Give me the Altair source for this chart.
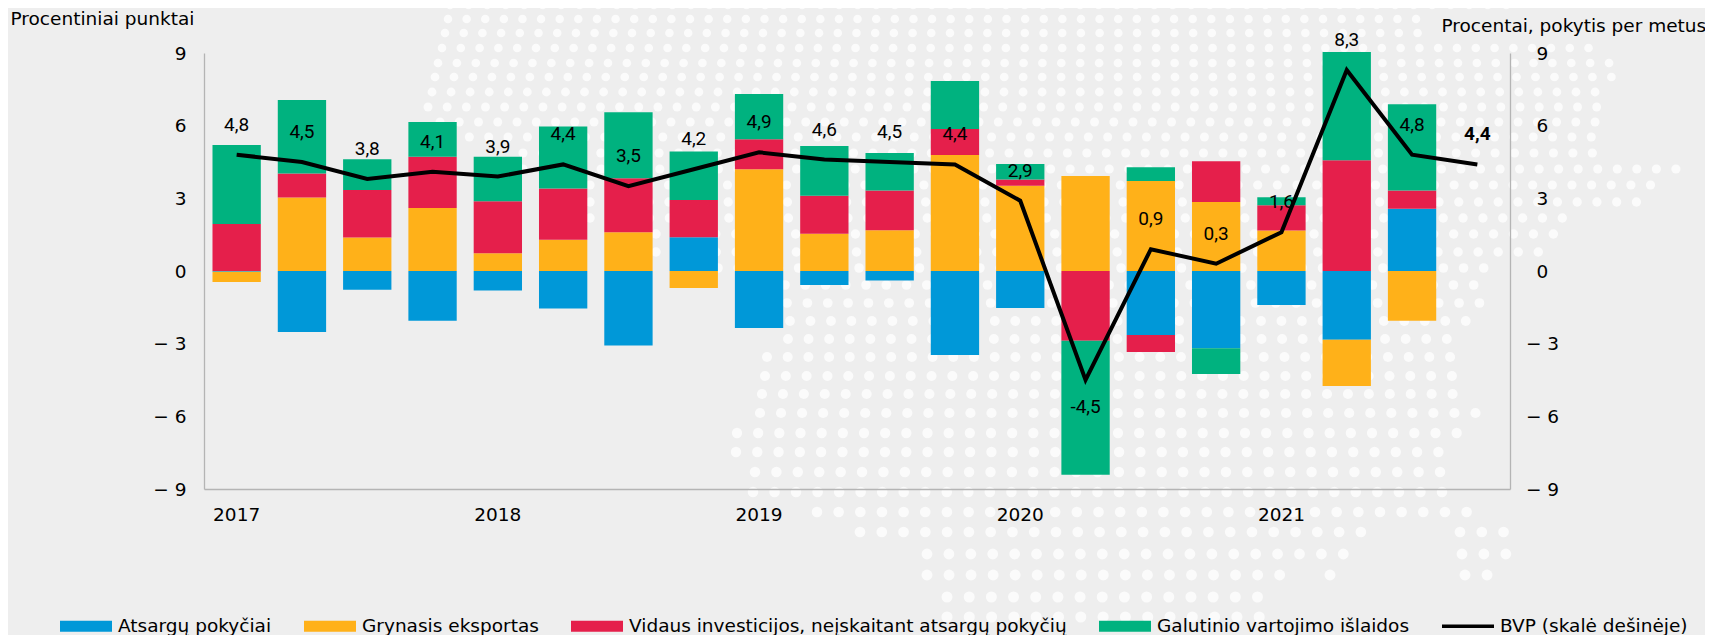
import altair as alt
import pandas as pd

quarters = [f"{y}Q{q}" for y in range(2017, 2022) for q in range(1, 5)]
series_names = ["Atsargų pokyčiai", "Grynasis eksportas",
                "Vidaus investicijos, neįskaitant atsargų pokyčių",
                "Galutinio vartojimo išlaidos", "BVP (skalė dešinėje)"]
series_colors = ["#0098D8", "#FFB119", "#E51F4B", "#00B27F", "#000000"]

inventories = [-0.03, -2.52, -0.77, -2.05, -0.80, -1.55, -3.08, 1.39, -2.35, -0.58,
               -0.39, -3.47, -1.53, 0.00, -2.64, -3.19, -1.40, -2.84, 2.57, 0.00]
net_exports = [-0.42, 3.03, 1.38, 2.60, 0.73, 1.29, 1.60, -0.70, 4.20, 1.54,
               1.68, 4.79, 3.52, 3.92, 3.72, 2.85, 1.67, -1.91, -2.05, 0.00]
investment = [1.94, 1.00, 1.96, 2.12, 2.15, 2.12, 2.23, 1.54, 1.24, 1.57,
              1.64, 1.07, 0.26, -2.88, -0.70, 1.68, 1.04, 4.57, 0.75, 0.00]
consumption = [3.26, 3.03, 1.27, 1.43, 1.84, 2.56, 2.72, 2.00, 1.87, 2.05,
               1.55, 1.98, 0.64, -5.53, 0.56, -1.06, 0.33, 4.47, 3.56, 0.00]
gdp = [4.8, 4.5, 3.8, 4.1, 3.9, 4.4, 3.5, 4.2, 4.9, 4.6,
       4.5, 4.4, 2.9, -4.5, 0.9, 0.3, 1.6, 8.3, 4.8, 4.4]
gdp_labels = ["4,8", "4,5", "3,8", "4,1", "3,9", "4,4", "3,5", "4,2", "4,9", "4,6",
              "4,5", "4,4", "2,9", "-4,5", "0,9", "0,3", "1,6", "8,3", "4,8", "4,4"]
y_ticks = [-9, -6, -3, 0, 3, 6, 9]

# decorative dotted map behind the chart: one entry per dot row (page pixels)
dot_row_y = [5, 19, 33, 48, 63, 77, 92, 107, 122, 137, 153, 169, 185, 202, 218, 234, 252, 268,
             285, 303, 321, 339, 357, 376, 394, 413, 433, 452, 472, 492, 512, 532, 532, 554, 554,
             575, 575, 575, 597, 617]
dot_row_start = [450, 448, 445, 442, 438, 435, 432, 428, 440, 450, 523, 523, 590, 590, 590, 656, 656, 718,
                 785, 787, 790, 788, 767, 765, 762, 760, 737, 736, 755, 753, 817, 860, 1460, 927, 1462,
                 927, 1330, 1465, 947, 947]
dot_row_end = [1510, 1430, 1425, 1607, 1613, 1617, 1600, 1603, 1607, 1610, 1597, 1677, 1660, 1640, 1573, 1573, 1557, 1497,
               1483, 1485, 1468, 1450, 1453, 1457, 1460, 1483, 1465, 1447, 1450, 1453, 1478, 1372, 1505, 1352, 1507,
               1285, 1331, 1488, 1265, 1267]

dots = []
for ry, x0, x1 in zip(dot_row_y, dot_row_start, dot_row_end):
    step = 18.5 + ry / 617 * 3.8
    d = 9.5 + ry / 617 * 3.0
    x = x0
    while x <= x1:
        dots.append({"px": x, "py": ry, "s": d * d * 0.785})
        x += step
dots_df = pd.DataFrame(dots)

rows = []
for name, vals in zip(series_names[:4], [inventories, net_exports, investment, consumption]):
    for i, (q, v) in enumerate(zip(quarters, vals)):
        rows.append({"q": q, "v": v, "Series": name, "o": series_names.index(name)})
bars_df = pd.DataFrame(rows)
gdp_df = pd.DataFrame({"q": quarters, "bvp": gdp, "label": gdp_labels})
legend_df = pd.DataFrame({"Series": series_names})

GRID = "#B4B4B4"
SANS = "DejaVu Sans"
NARROW = "Roboto"
FS = 18.5
band = alt.Scale(domain=quarters, type="band", paddingInner=0.26, paddingOuter=0.13)
yscale = alt.Scale(domain=[-9, 9], nice=False, zero=False)
xq = alt.X("q:N", scale=band, axis=None)

R = "M-1,-0.21H1V0.21H-1Z"
L = "M-1,-0.065H1V0.065H-1Z"
leg = alt.Legend(title=None, orient="none", legendX=-144, legendY=547, columns=5, columnPadding=32,
                 symbolSize=2704, symbolOpacity=1, symbolStrokeWidth=0, labelFont=SANS, labelFontSize=FS,
                 labelColor="#000", labelLimit=1000, labelOffset=6)

dots_layer = alt.Chart(dots_df).mark_point(filled=True, color="#FBFBFB", opacity=1).encode(
    x=alt.X("px:Q", scale=alt.Scale(domain=[204, 1510], nice=False, zero=False), axis=None),
    y=alt.Y("py:Q", scale=alt.Scale(domain=[489, 53], nice=False, zero=False), axis=None),
    size=alt.Size("s:Q", scale=None),
)

bars = alt.Chart(bars_df).mark_bar().encode(
    x=alt.X("q:N", scale=band, title=None, axis=alt.Axis(
        orient="bottom", ticks=False, tickSize=0, domainColor=GRID, domainWidth=1.3, zindex=1,
        labelAngle=0, labelFont=SANS, labelFontSize=FS, labelColor="#000", labelPadding=16,
        labelExpr="indexof(datum.label,'Q1')>=0 ? slice(datum.label,0,4) : ''", labelOverlap=False, grid=False)),
    y=alt.Y("v:Q", stack="zero", scale=yscale, axis=alt.Axis(
        title="Procentiniai punktai", titleAngle=0, titleAlign="left", titleBaseline="middle", zindex=1,
        titleX=-194, titleY=-35, titleFont=SANS, titleFontSize=FS, titleFontWeight="normal", titleColor="#000",
        orient="left", values=y_ticks, ticks=False, tickSize=0, grid=False,
        domainColor=GRID, domainWidth=1.3, labelFont=SANS, labelFontSize=FS, labelColor="#000", labelPadding=18,
        labelExpr="datum.value<0 ? '− '+abs(datum.value) : ''+datum.value")),
    color=alt.Color("Series:N", scale=alt.Scale(domain=series_names, range=series_colors), legend=leg),
    order=alt.Order("o:Q"),
)

line = alt.Chart(gdp_df).mark_line(color="#000", strokeWidth=4, strokeCap="butt", strokeJoin="miter").encode(
    x=xq,
    y=alt.Y("bvp:Q", scale=yscale, axis=alt.Axis(
        title="Procentai, pokytis per metus", titleAngle=0, titleAlign="left", titleBaseline="middle", zindex=1,
        titleX=-69, titleY=-28, titleFont=SANS, titleFontSize=FS, titleFontWeight="normal", titleColor="#000",
        orient="right", values=y_ticks, ticks=False, tickSize=0, grid=False,
        domainColor=GRID, domainWidth=1.3, labelFont=SANS, labelFontSize=FS, labelColor="#000", labelPadding=32,
        labelAlign="center",
        labelExpr="datum.value<0 ? '− '+abs(datum.value) : ''+datum.value")),
)

ynone = alt.Y("bvp:Q", scale=yscale, axis=None)
text_enc = dict(x=xq, y=ynone, text="label:N")
labels_up = alt.Chart(gdp_df).transform_filter("datum.bvp>=0 && datum.q!='2021Q4'").mark_text(
    font=NARROW, fontSize=19, dy=-30, color="#000", baseline="middle").encode(**text_enc)
labels_down = alt.Chart(gdp_df).transform_filter("datum.bvp<0").mark_text(
    font=NARROW, fontSize=19, dy=27, color="#000", baseline="middle").encode(**text_enc)
labels_last = alt.Chart(gdp_df).transform_filter("datum.q=='2021Q4'").mark_text(
    font=NARROW, fontSize=19, fontWeight="bold", dy=-30, color="#000", baseline="middle").encode(**text_enc)

legend_layer = alt.Chart(legend_df).mark_point(filled=True, opacity=0, size=10).encode(
    color=alt.Color("Series:N", scale=alt.Scale(domain=series_names, range=series_colors), legend=leg),
    shape=alt.Shape("Series:N", scale=alt.Scale(domain=series_names, range=[R, R, R, R, L]), legend=leg),
)

chart = alt.layer(dots_layer, bars, line, labels_up, labels_down, labels_last, legend_layer).resolve_scale(
    x="independent", y="independent"
).properties(
    width=1306, height=436, autosize="none", background="#EEEEEE",
    padding={"left": 196, "top": 45, "right": 195, "bottom": 146},
).configure_view(stroke=None)

chart.save("out.html", embed_options={"renderer": "svg", "actions": False})
